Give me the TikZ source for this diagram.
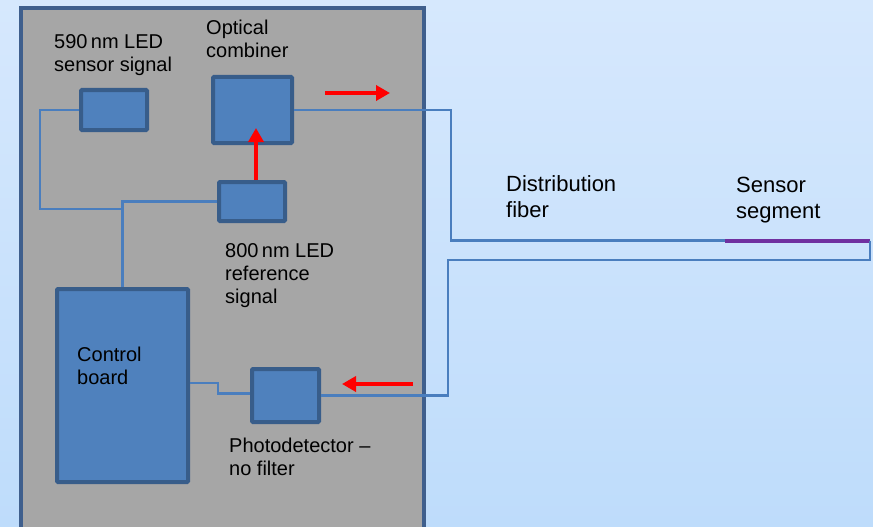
\documentclass[tikz,border=0pt]{standalone}
\usepackage{fontspec}
\setmainfont{Liberation Sans}
\usetikzlibrary{arrows.meta}
\definecolor{BgTop}{HTML}{D6E8FD}
\definecolor{BgBot}{HTML}{BEDCFB}
\definecolor{PanelGray}{HTML}{A6A6A6}
\definecolor{PanelLine}{HTML}{3F5F8D}
\definecolor{BoxFill}{HTML}{4F81BD}
\definecolor{BoxLine}{HTML}{385D8A}
\definecolor{Wire}{HTML}{4A7EBE}
\definecolor{Segment}{HTML}{7030A0}

\begin{document}
\begin{tikzpicture}[x=1pt,y=-1pt,
  unit/.style={draw=BoxLine,fill=BoxFill,line width=4pt,rounded corners=1pt,inner sep=0pt},
  wire/.style={draw=Wire,line width=2.5pt},
  sig/.style={draw=red,line width=4pt,-{Triangle[length=14pt,width=15pt]}},
  lbl/.style={font=\fontsize{20}{23}\selectfont,align=left,inner sep=0pt,anchor=base west},
  lblr/.style={lbl,font=\fontsize{22}{26}\selectfont}]
\path[use as bounding box] (0,0) rectangle (873,527);
\clip (0,0) rectangle (873,527);
\shade[top color=BgTop,bottom color=BgBot] (0,0) rectangle (873,527);
% instrument housing
\draw[PanelLine,fill=PanelGray,line width=4.5pt] (21,540) -- (21,8) -- (424,8) -- (424,540);
% units
\node[unit,minimum width=66pt,minimum height=40pt] (led590) at (114,110) {};
\node[unit,minimum width=79pt,minimum height=66pt] (combiner) at (252.5,110) {};
\node[unit,minimum width=66pt,minimum height=39pt] (led800) at (252,201.5) {};
\node[unit,minimum width=131pt,minimum height=193pt] (ctrl) at (122.5,385.5) {};
\node[unit,minimum width=67pt,minimum height=53pt] (pd) at (285.5,395.5) {};
% labels (base = last line)
\node[lbl] (lab590) at (54,71) {590\,nm LED\\sensor signal};
\node[lbl] (labcomb) at (206,58) {Optical\\combiner};
\node[lbl] (lab800) at (225,303) {800\,nm LED\\reference\\signal};
\node[lbl] (labctrl) at (77,384) {Control\\board};
\node[lbl] (labpd) at (229,475) {Photodetector --\\no filter};
\node[lblr] (labfib) at (506,217) {Distribution\\fiber};
\node[lblr] (labseg) at (736,218) {Sensor\\segment};
% fiber ends and bends
\coordinate (tap) at (122.5,209);
\coordinate (segA) at (725,240.5);
\coordinate (segB) at (870,240.5);
\coordinate (retT) at (448,260);
% electrical wiring
\draw[wire] (led590.west) -- ++(-39,0) |- (tap);
\draw[wire] (ctrl.north) |- (led800.west);
\draw[wire] ([yshift=2pt]pd.west) -- ++(-32,0) |- ([yshift=2.5pt]ctrl.east);
% fiber loop
\draw[wire] (combiner.east) -- ++(157,0) |- (segA);
\draw[Segment,line width=4pt] (segA) -- (segB);
\draw[wire] (segB) |- (retT) |- (pd.east);
% light direction
\coordinate (outA) at (325,93);
\coordinate (outB) at (390,93);
\coordinate (inA) at (413,384);
\coordinate (inB) at (342,384);
\draw[sig] (outA) -- (outB);
\draw[sig] ([xshift=4pt]led800.north) -- ++(0,-52);
\draw[sig] (inA) -- (inB);
\end{tikzpicture}
\end{document}
